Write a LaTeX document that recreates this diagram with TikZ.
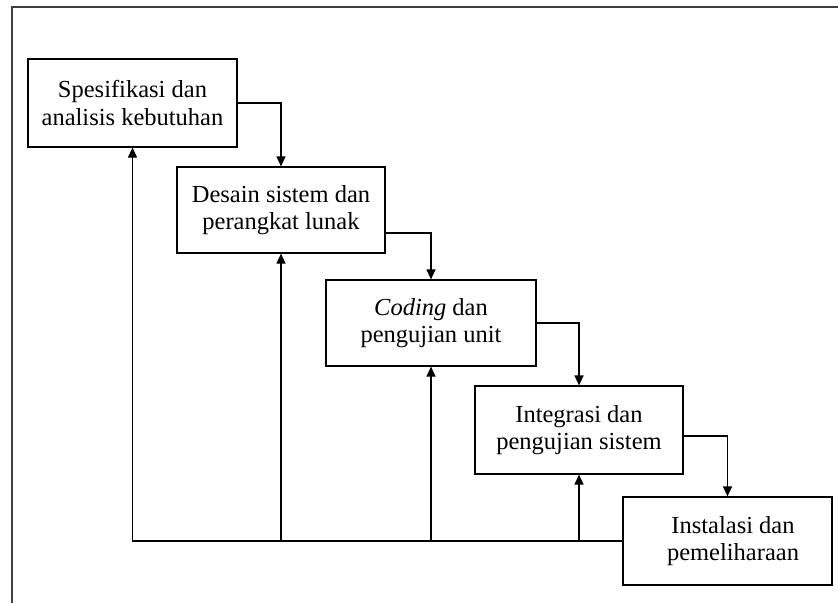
\documentclass[tikz,border=0pt]{standalone}
\usepackage{fontspec}
\setmainfont{Liberation Serif}
\usetikzlibrary{arrows.meta}
\begin{document}
\begin{tikzpicture}[x=1pt,y=-1pt,
  phase/.style={draw=black, line width=1.2pt, align=center, inner sep=0pt,
    font=\fontsize{24.5pt}{27.5pt}\selectfont},
  flow/.style={line width=1.2pt, -{Triangle[width=9pt,length=10pt]}},
  frame/.style={line width=1.4pt, draw=black!75}]
\useasboundingbox (0,0) rectangle (838,603);
\draw[frame] (12,603) -- (12,7) -- (838,7);

\node[phase, minimum width=209pt, minimum height=88pt] (b1) at (132.5,103) {Spesifikasi dan\\analisis kebutuhan};
\node[phase, minimum width=208pt, minimum height=86pt] (b2) at (281,210) {Desain sistem dan\\perangkat lunak};
\node[phase, minimum width=210pt, minimum height=86pt] (b3) at (431,323) {\textit{Coding} dan\\pengujian unit};
\node[phase, minimum width=208pt, minimum height=88pt] (b4) at (579,430) {Integrasi dan\\pengujian sistem};
\node[phase, minimum width=209pt, minimum height=88pt] (b5) at (727.5,541) {\hspace*{11pt}Instalasi dan\\\hspace*{11pt}pemeliharaan};

\draw[flow] (b1.east) -| (b2.north);
\draw[flow] ([yshift=-23pt]b2.east) -| (b3.north);
\draw[flow] (b3.east) -| (b4.north);
\draw[flow] ([yshift=-6pt]b4.east) -| (b5.north);

\draw[flow] (b5.west) -| (b1.south);
\draw[flow] (b2.south |- b5.west) -- (b2.south);
\draw[flow] (b3.south |- b5.west) -- (b3.south);
\draw[flow] (b4.south |- b5.west) -- (b4.south);
\end{tikzpicture}
\end{document}
